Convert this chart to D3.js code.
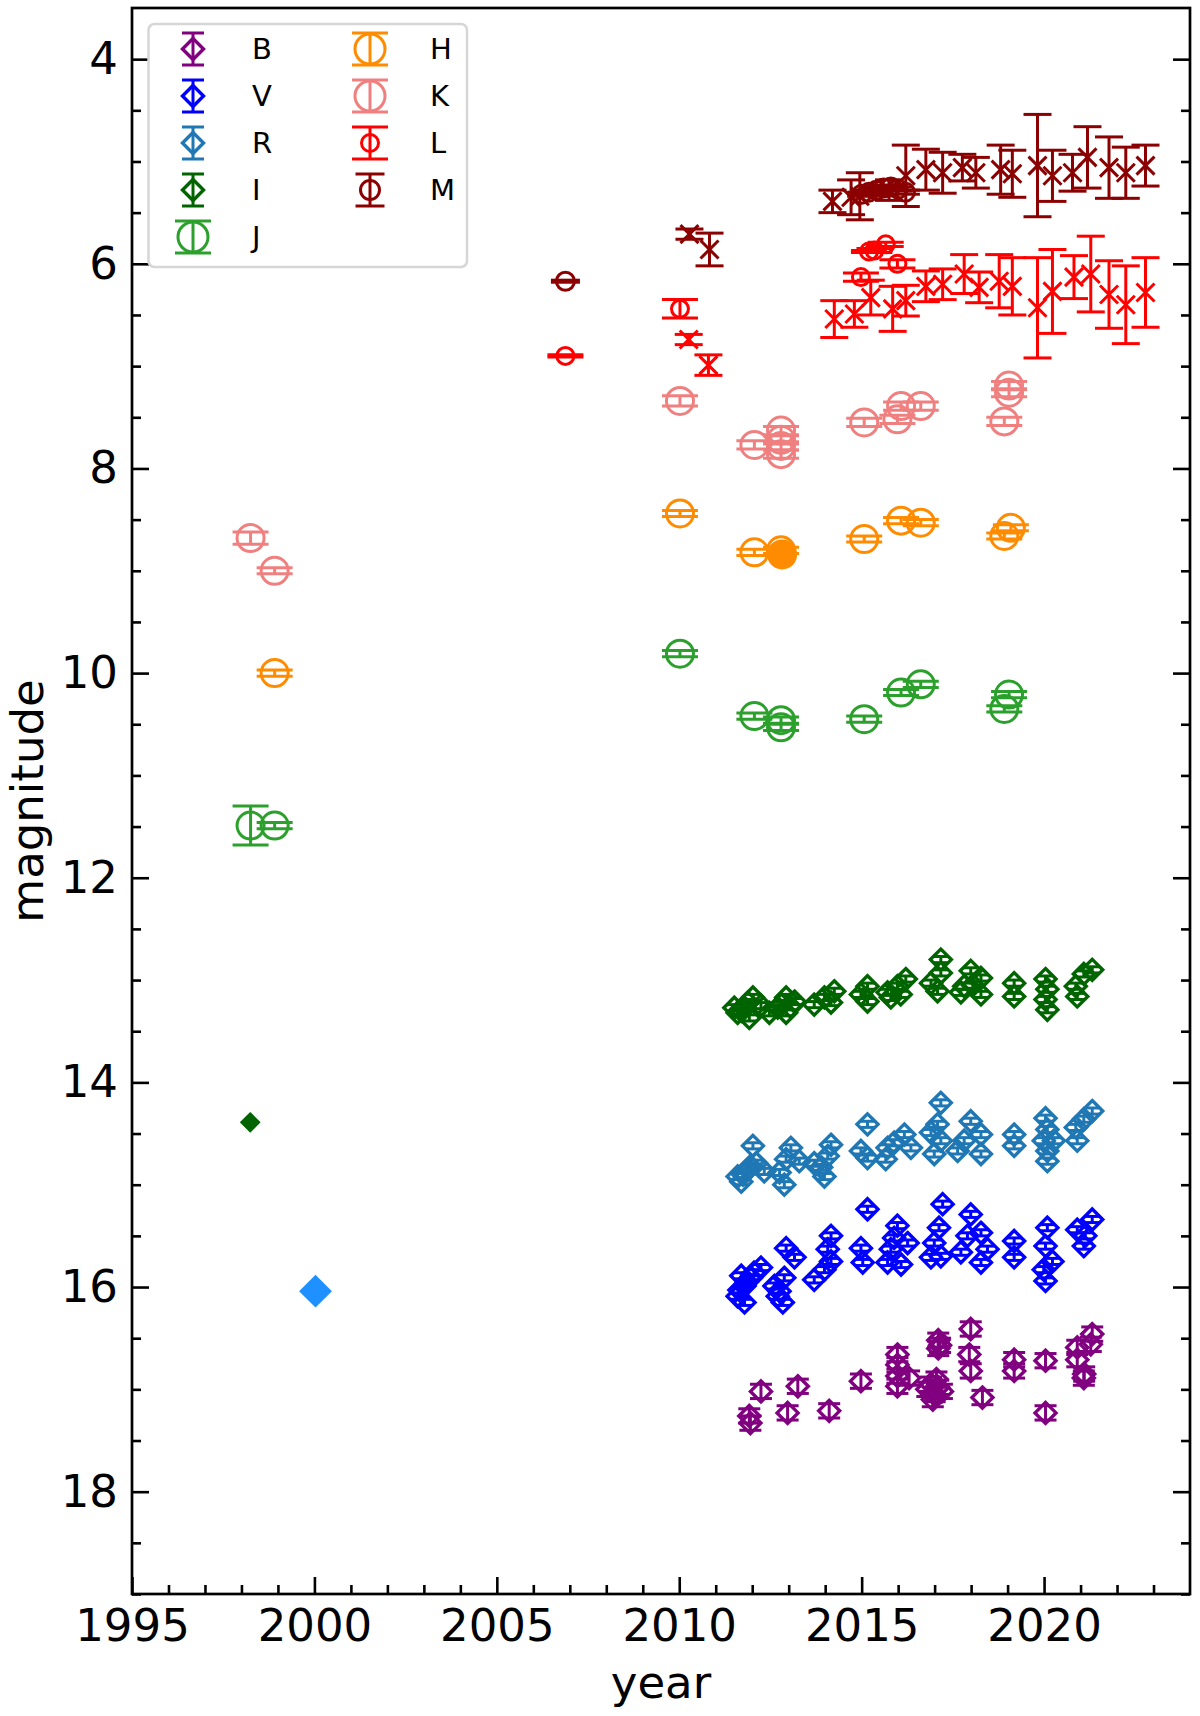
<!DOCTYPE html>
<meta charset="utf-8">
<script src="https://d3js.org/d3.v7.min.js"></script>
<style>
  body { margin: 0; background: #fff; }
  svg text { font-family: "DejaVu Sans", sans-serif; }
</style>
<body>
<div id="chart"></div>
<script>

// ---------------- data ----------------
// diamond bands: [year, magnitude]
var bandB = [[2011.92, 17.26], [2011.95, 17.33], [2012.24, 17.02], [2012.97, 17.23], [2013.25, 16.97],
  [2014.11, 17.21], [2014.98, 16.92], [2015.98, 16.66], [2015.98, 16.76], [2015.98, 16.87],
  [2015.98, 16.97], [2016.30, 16.89], [2017.10, 16.52], [2017.15, 16.57], [2017.10, 16.60],
  [2016.80, 17.00], [2016.90, 16.95], [2017.00, 17.05], [2017.10, 16.98], [2017.20, 17.02],
  [2016.95, 17.10], [2017.05, 16.90], [2017.99, 16.41], [2017.95, 16.66], [2017.99, 16.82],
  [2018.31, 17.08], [2019.18, 16.71], [2019.18, 16.82], [2020.04, 16.72], [2020.04, 17.23],
  [2020.91, 16.59], [2020.91, 16.71], [2021.09, 16.89], [2021.10, 16.85], [2021.32, 16.46],
  [2021.28, 16.56]];
var bandV = [[2011.70, 15.89], [2011.79, 15.99], [2011.79, 16.15], [2011.60, 16.09], [2012.24, 15.81],
  [2011.97, 15.91], [2011.65, 16.03], [2011.85, 15.95], [2012.05, 15.86],
  [2012.93, 15.62], [2013.16, 15.71], [2012.88, 15.91], [2012.70, 16.09],
  [2012.84, 16.15], [2012.61, 15.99], [2012.75, 16.04], [2013.70, 15.93], [2013.98, 15.83], [2014.16, 15.50],
  [2014.07, 15.63], [2014.16, 15.75], [2015.16, 15.24], [2014.98, 15.62], [2015.03, 15.76],
  [2015.98, 15.40], [2015.89, 15.52], [2016.26, 15.57], [2015.71, 15.76], [2016.08, 15.78],
  [2015.80, 15.63], [2017.22, 15.19], [2017.12, 15.42], [2016.99, 15.57], [2016.90, 15.71],
  [2017.17, 15.70], [2017.99, 15.29], [2018.27, 15.47], [2017.90, 15.50], [2017.72, 15.66],
  [2018.27, 15.76], [2018.45, 15.63], [2019.18, 15.55], [2019.18, 15.71], [2020.09, 15.42],
  [2020.04, 15.60], [2020.23, 15.75], [2019.99, 15.83], [2020.04, 15.94], [2020.91, 15.44],
  [2021.09, 15.60], [2021.32, 15.34], [2021.13, 15.50]];
var bandR = [[2012.02, 14.62], [2011.70, 14.97], [2011.88, 14.85], [2012.11, 14.79], [2011.60, 14.92],
  [2011.75, 14.90], [2011.95, 14.82],
  [2012.33, 14.87], [2012.88, 15.00], [2012.75, 14.88], [2013.06, 14.64], [2012.93, 14.75],
  [2013.29, 14.77], [2013.70, 14.79], [2013.98, 14.92], [2014.16, 14.61], [2014.07, 14.72],
  [2013.89, 14.83], [2015.16, 14.41], [2014.98, 14.67], [2015.16, 14.74], [2015.66, 14.75],
  [2015.89, 14.59], [2016.17, 14.51], [2016.35, 14.64], [2015.71, 14.64], [2017.17, 14.20],
  [2017.08, 14.41], [2016.90, 14.49], [2017.17, 14.57], [2016.99, 14.70], [2017.99, 14.38],
  [2018.27, 14.51], [2017.81, 14.57], [2018.27, 14.70], [2017.63, 14.67], [2019.18, 14.51],
  [2019.18, 14.62], [2020.04, 14.35], [2020.09, 14.46], [2019.99, 14.57], [2020.09, 14.67],
  [2020.09, 14.77], [2020.27, 14.57], [2020.91, 14.57], [2020.87, 14.44], [2021.09, 14.36],
  [2021.32, 14.28]];
var bandI = [[2011.51, 13.27], [2011.60, 13.32], [2011.79, 13.27], [2012.02, 13.17], [2012.24, 13.25],
  [2011.92, 13.37], [2011.70, 13.30], [2011.88, 13.22], [2012.47, 13.32], [2012.70, 13.27],
  [2012.93, 13.17], [2012.93, 13.32], [2012.80, 13.24], [2013.05, 13.26],
  [2013.16, 13.21], [2013.70, 13.24], [2013.98, 13.17], [2014.25, 13.11], [2014.16, 13.22],
  [2014.98, 13.14], [2015.16, 13.06], [2015.16, 13.21], [2015.71, 13.12], [2015.80, 13.17],
  [2015.98, 13.06], [2016.07, 13.14], [2016.21, 12.99], [2016.90, 13.03], [2017.08, 13.11],
  [2017.17, 12.80], [2017.17, 12.93], [2017.72, 13.12], [2017.81, 13.06], [2017.99, 12.91],
  [2018.27, 12.98], [2018.27, 13.14], [2018.05, 13.05], [2019.18, 13.03], [2019.18, 13.16], [2020.04, 12.99],
  [2020.09, 13.09], [2020.04, 13.19], [2020.09, 13.29], [2020.87, 13.06], [2020.91, 13.16],
  [2021.09, 12.94], [2021.32, 12.90]];
var errB = 0.07, errVRI = 0.03;

// circle bands: [year, magnitude, error]
var bandJ = [[1998.25, 11.49, 0.19], [1998.91, 11.49, 0.03], [2010.02, 9.81, 0.03], [2012.06, 10.42, 0.03],
  [2012.79, 10.46, 0.03], [2012.79, 10.53, 0.03], [2015.07, 10.45, 0.03], [2016.08, 10.19, 0.03],
  [2016.62, 10.11, 0.03], [2018.91, 10.35, 0.03], [2019.04, 10.21, 0.03]];
var bandH = [[1998.91, 10.00, 0.03], [2010.02, 8.44, 0.03], [2012.06, 8.82, 0.03], [2012.79, 8.80, 0.03],
  [2015.07, 8.69, 0.03], [2016.08, 8.51, 0.03], [2016.62, 8.53, 0.03], [2018.91, 8.66, 0.03],
  [2019.09, 8.58, 0.03]];
var bandK = [[1998.25, 8.68, 0.06], [1998.91, 9.00, 0.03], [2010.02, 7.34, 0.05], [2012.06, 7.77, 0.04],
  [2012.79, 7.63, 0.04], [2012.79, 7.72, 0.04], [2012.79, 7.78, 0.04], [2012.79, 7.86, 0.04],
  [2015.07, 7.55, 0.04], [2015.98, 7.52, 0.04], [2016.08, 7.39, 0.04], [2016.62, 7.39, 0.04],
  [2018.91, 7.54, 0.04], [2019.04, 7.26, 0.04], [2019.04, 7.19, 0.04]];
var bandL = [[2006.88, 6.90, 0.01], [2010.02, 6.44, 0.09], [2014.98, 6.13, 0.04], [2015.20, 5.88, 0.01],
  [2015.35, 5.87, 0.02], [2015.66, 5.81, 0.02], [2015.98, 6.00, 0.04]];
var bandM = [[2006.88, 6.17, 0.01], [2015.00, 5.32, 0.02], [2015.20, 5.30, 0.02], [2015.40, 5.28, 0.02],
  [2015.60, 5.26, 0.02], [2015.80, 5.25, 0.02], [2016.00, 5.27, 0.02], [2016.20, 5.30, 0.02]];

// cross markers (no legend entry): [year, magnitude, error]
var crossL = [[2010.26, 6.74, 0.05], [2010.80, 6.99, 0.10], [2014.25, 6.54, 0.18], [2014.80, 6.49, 0.13],
  [2015.25, 6.33, 0.17], [2015.85, 6.44, 0.22], [2016.21, 6.36, 0.15], [2016.76, 6.22, 0.15],
  [2017.22, 6.20, 0.15], [2017.81, 6.10, 0.19], [2018.22, 6.23, 0.15], [2018.77, 6.17, 0.26],
  [2019.13, 6.22, 0.28], [2019.82, 6.43, 0.49], [2020.23, 6.27, 0.41], [2020.82, 6.13, 0.21],
  [2021.28, 6.10, 0.37], [2021.78, 6.30, 0.33], [2022.24, 6.40, 0.38], [2022.78, 6.28, 0.34]];
var crossM = [[2010.28, 5.71, 0.05], [2010.83, 5.86, 0.16], [2014.20, 5.39, 0.11], [2014.71, 5.35, 0.17],
  [2014.95, 5.34, 0.23], [2015.75, 5.28, 0.10], [2016.21, 5.14, 0.30], [2016.76, 5.08, 0.20],
  [2017.22, 5.11, 0.20], [2017.76, 5.06, 0.13], [2018.13, 5.11, 0.15], [2018.81, 5.08, 0.24],
  [2019.13, 5.12, 0.23], [2019.82, 5.04, 0.50], [2020.23, 5.14, 0.25], [2020.78, 5.11, 0.18],
  [2021.19, 4.96, 0.30], [2021.78, 5.06, 0.30], [2022.24, 5.11, 0.25], [2022.78, 5.04, 0.20]];

// filled single points
var filledH = [[2012.82, 8.84]];
var filledI = [[1998.24, 14.39]];
var filled2000 = [[2000.03, 16.04]];

// axes
var xRange = [1995, 2024];
var yRange = [3.5, 19];
var xMajor = [1995, 2000, 2005, 2010, 2015, 2020];
var yMajor = [4, 6, 8, 10, 12, 14, 16, 18];
var legendCol1 = ["B", "V", "R", "I", "J"];
var legendCol2 = ["H", "K", "L", "M"];

// ---------------- drawing ----------------
var W = 1200, H = 1716;
var plotL = 132, plotR = 1190, plotT = 8, plotB = 1594;

var colours = {B: "#800080", V: "#0000ff", R: "#1f77b4", I: "#006400", J: "#2ca02c",
               H: "#ff8c00", K: "#f08080", L: "#ff0000", M: "#8b0000"};

var style = {
    B: {marker: "D", size: 10.5, cap: 22},
    V: {marker: "D", size: 10.5, cap: 14},
    R: {marker: "D", size: 10.5, cap: 14},
    I: {marker: "D", size: 10.5, cap: 14},
    J: {marker: "o", size: 13.5, cap: 36},
    H: {marker: "o", size: 13.5, cap: 36},
    K: {marker: "o", size: 13.5, cap: 36},
    L: {marker: "o", size: 8.5, cap: 36},
    M: {marker: "o", size: 9, cap: 29}
};

var x = d3.scaleLinear().domain(xRange).range([plotL, plotR]);
var y = d3.scaleLinear().domain(yRange).range([plotT, plotB]);

const svg = d3.select("#chart").append("svg")
    .attr("width", W)
    .attr("height", H);

svg.append("rect").attr("width", W).attr("height", H).attr("fill", "#fff");

function markerPath(kind, s) {
    if (kind === "D") return `M0,${-s}L${s},0L0,${s}L${-s},0Z`;
    return `M${-s},${-s}L${s},${s}M${-s},${s}L${s},${-s}`;
}

function drawMarker(g, kind, s, colour, filled) {
    if (kind === "o") {
        g.append("circle").attr("r", s)
            .attr("fill", filled ? colour : "none")
            .attr("stroke", colour).attr("stroke-width", 3);
    } else {
        g.append("path").attr("d", markerPath(kind, s))
            .attr("fill", filled && kind === "D" ? colour : "none")
            .attr("stroke", colour).attr("stroke-width", kind === "D" ? 3.4 : 3)
            .attr("stroke-linejoin", "miter");
    }
}

function drawSeries(data, opt) {
    const g = svg.append("g");
    data.forEach(function(d) {
        var e = d.length > 2 ? d[2] : (opt.err || 0);
        var cx = x(d[0]), cy = y(d[1]);
        var pg = g.append("g");
        if (e > 0) {
            var y1 = y(d[1] - e), y2 = y(d[1] + e);
            pg.append("line").attr("x1", cx).attr("x2", cx).attr("y1", y1).attr("y2", y2)
                .attr("stroke", opt.colour).attr("stroke-width", 3);
            [y1, y2].forEach(function(yy) {
                pg.append("line")
                    .attr("x1", cx - opt.cap / 2).attr("x2", cx + opt.cap / 2)
                    .attr("y1", yy).attr("y2", yy)
                    .attr("stroke", opt.colour).attr("stroke-width", 3);
            });
        }
        var mg = pg.append("g").attr("transform", `translate(${cx},${cy})`);
        drawMarker(mg, opt.marker, opt.size, opt.colour, opt.filled);
    });
}

// bands
drawSeries(bandB, Object.assign({colour: colours.B, err: errB}, style.B));
drawSeries(bandV, Object.assign({colour: colours.V, err: errVRI}, style.V));
drawSeries(bandR, Object.assign({colour: colours.R, err: errVRI}, style.R));
drawSeries(bandI, Object.assign({colour: colours.I, err: errVRI}, style.I));
drawSeries(bandJ, Object.assign({colour: colours.J}, style.J));
drawSeries(bandH, Object.assign({colour: colours.H}, style.H));
drawSeries(bandK, Object.assign({colour: colours.K}, style.K));
drawSeries(bandL, Object.assign({colour: colours.L}, style.L));
drawSeries(bandM, Object.assign({colour: colours.M}, style.M));
drawSeries(crossL, {colour: colours.L, marker: "x", size: 9, cap: 28});
drawSeries(crossM, {colour: colours.M, marker: "x", size: 9, cap: 28});
drawSeries(filledH, {colour: colours.H, marker: "o", size: 13.5, cap: 0, filled: true});
drawSeries(filledI, {colour: colours.I, marker: "D", size: 8, cap: 0, filled: true});
drawSeries(filled2000, {colour: "#1e90ff", marker: "D", size: 14, cap: 0, filled: true});

// ---------------- axes ----------------
var xMinor = d3.range(xRange[0] + 1, xRange[1]).filter(v => v % 5 !== 0);
var yMinor = d3.range(4, 19.01, 0.5).filter(v => v % 2 !== 0);

function styleAxis(g) {
    g.select(".domain").remove();
    g.selectAll("line").attr("stroke", "#000").attr("stroke-width", 2.6);
    g.selectAll("text").attr("font-size", 45).attr("fill", "#000")
        .attr("font-family", "DejaVu Sans");
}

svg.append("g").attr("transform", `translate(0,${plotB})`)
    .call(d3.axisBottom(x).tickValues(xMajor).tickSize(-17).tickPadding(15).tickFormat(d3.format("d")))
    .call(styleAxis);
svg.append("g").attr("transform", `translate(0,${plotB})`)
    .call(d3.axisBottom(x).tickValues(xMinor).tickSize(-9).tickFormat(""))
    .call(styleAxis);
svg.append("g").attr("transform", `translate(${plotL},0)`)
    .call(d3.axisLeft(y).tickValues(yMajor).tickSize(-17).tickPadding(14).tickFormat(d3.format("d")))
    .call(styleAxis);
svg.append("g").attr("transform", `translate(${plotL},0)`)
    .call(d3.axisLeft(y).tickValues(yMinor).tickSize(-9).tickFormat(""))
    .call(styleAxis);
svg.append("g").attr("transform", `translate(${plotR},0)`)
    .call(d3.axisRight(y).tickValues(yMajor).tickSize(-17).tickFormat(""))
    .call(styleAxis);
svg.append("g").attr("transform", `translate(${plotR},0)`)
    .call(d3.axisRight(y).tickValues(yMinor).tickSize(-9).tickFormat(""))
    .call(styleAxis);

// frame
svg.append("rect")
    .attr("x", plotL).attr("y", plotT)
    .attr("width", plotR - plotL).attr("height", plotB - plotT)
    .attr("fill", "none").attr("stroke", "#000").attr("stroke-width", 2.7);

// axis labels
svg.append("text").attr("x", (plotL + plotR) / 2).attr("y", 1698)
    .attr("text-anchor", "middle").attr("font-size", 45).text("year");
svg.append("text")
    .attr("transform", `translate(43,${(plotT + plotB) / 2}) rotate(-90)`)
    .attr("text-anchor", "middle").attr("font-size", 45).text("magnitude");

// ---------------- legend ----------------
const legend = svg.append("g");
legend.append("rect")
    .attr("x", 148.5).attr("y", 24).attr("width", 318.5).attr("height", 243)
    .attr("rx", 6).attr("fill", "#fff").attr("fill-opacity", 0.8)
    .attr("stroke", "#d6d6d6").attr("stroke-width", 2.5);

var rowY = d3.scalePoint().domain(d3.range(5)).range([49, 237]);
var legendSize = {B: 10.5, V: 10.5, R: 10.5, I: 10.5, J: 15, H: 15, K: 15, L: 8.5, M: 9.5};
var legendCap = {B: 22, V: 22, R: 22, I: 22, J: 36, H: 36, K: 36, L: 36, M: 29};

function legendEntry(name, i, mx, tx) {
    var cy = rowY(i), c = colours[name];
    var g = legend.append("g").attr("transform", `translate(${mx},${cy})`);
    g.append("line").attr("y1", -16).attr("y2", 16).attr("stroke", c).attr("stroke-width", 3);
    [-16, 16].forEach(function(yy) {
        g.append("line").attr("x1", -legendCap[name] / 2).attr("x2", legendCap[name] / 2)
            .attr("y1", yy).attr("y2", yy).attr("stroke", c).attr("stroke-width", 3);
    });
    drawMarker(g, style[name].marker, legendSize[name], c, false);
    legend.append("text").attr("x", tx).attr("y", cy).attr("dy", "0.36em")
        .attr("font-size", 29).text(name);
}
legendCol1.forEach((n, i) => legendEntry(n, i, 193, 252));
legendCol2.forEach((n, i) => legendEntry(n, i, 370, 430));

</script>
</body>
